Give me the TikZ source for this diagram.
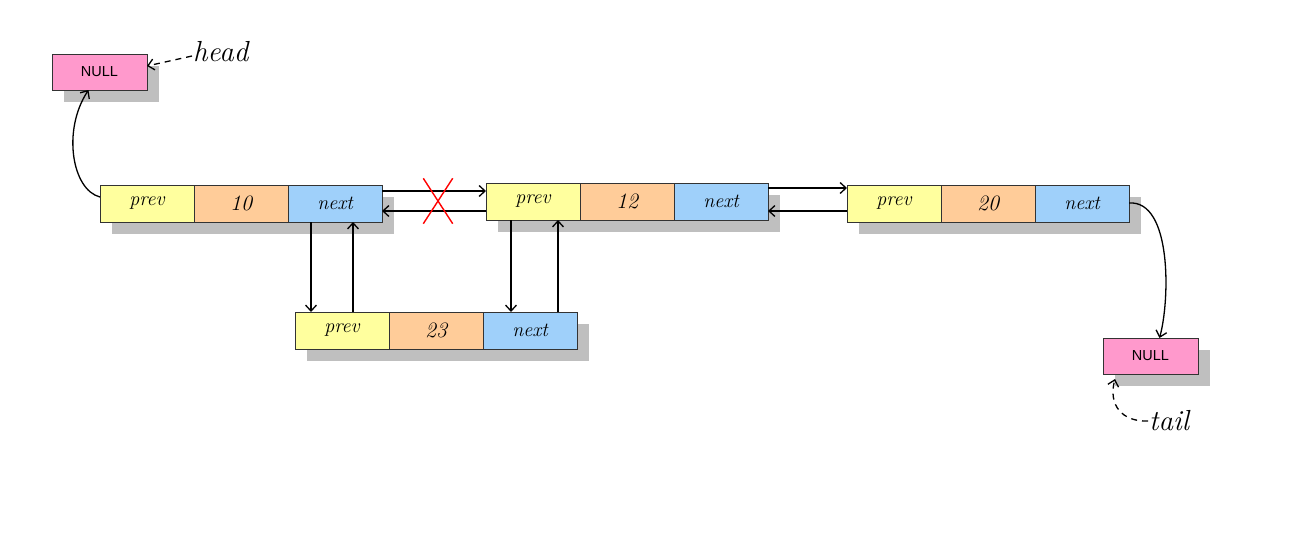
\documentclass[tikz,border=0pt]{standalone}
\usepackage{fontspec}
\usetikzlibrary{arrows.meta,positioning,backgrounds,shapes.misc}
\newfontfamily\nulltextfont{Liberation Sans}
\definecolor{cprev}{HTML}{FFFF9E}
\definecolor{cval}{HTML}{FFCC99}
\definecolor{cnext}{HTML}{9FD0FA}
\definecolor{cnull}{HTML}{FF99CC}
\definecolor{cshadow}{HTML}{BFBFBF}
\tikzset{
  cell/.style={draw=black!80, line width=0.9pt, minimum width=94pt, minimum height=37pt,
    inner sep=0pt, outer sep=0pt, font=\fontsize{20}{22}\selectfont\itshape},
  prevcell/.style={cell, fill=cprev},
  valcell/.style={cell, fill=cval, font=\fontsize{22}{24}\selectfont\itshape},
  nextcell/.style={cell, fill=cnext},
  nullbox/.style={draw=black!80, line width=0.9pt, fill=cnull, minimum width=95pt, minimum height=36pt,
    inner sep=0pt, outer sep=0pt, font=\nulltextfont\fontsize{14.5}{16}\selectfont},
  arr/.style={line width=1.3pt, -{Straight Barb[length=6pt,width=11pt]}},
  lbl/.style={font=\fontsize{29}{32}\selectfont\itshape, inner sep=1pt},
  shadowbox/.style={fill=cshadow}
}
\begin{document}
\begin{tikzpicture}[x=1pt,y=-1pt]
\useasboundingbox (0,0) rectangle (1300,538);
% node 10
\node[prevcell, anchor=north west] (a1) at (100,185) {prev};
\node[valcell, right=0pt of a1] (a2) {10};
\node[nextcell, right=0pt of a2] (a3) {next};
% node 12
\node[prevcell, anchor=north west] (b1) at (486,183) {prev};
\node[valcell, right=0pt of b1] (b2) {12};
\node[nextcell, right=0pt of b2] (b3) {next};
% node 20
\node[prevcell, anchor=north west] (c1) at (847,185) {prev};
\node[valcell, right=0pt of c1] (c2) {20};
\node[nextcell, right=0pt of c2] (c3) {next};
% node 23
\node[prevcell, anchor=north west] (d1) at (295,312) {prev};
\node[valcell, right=0pt of d1] (d2) {23};
\node[nextcell, right=0pt of d2] (d3) {next};
% NULL boxes
\node[nullbox, anchor=north west] (hn) at (52,54) {NULL};
\node[nullbox, anchor=north west] (tn) at (1103,338) {NULL};
% labels
\node[lbl, anchor=west] (hl) at (192,52) {head};
\node[lbl, anchor=west] (tl) at (1148,421) {tail};
% shadows
\begin{scope}[on background layer]
\foreach \p/\q in {a1/a3,b1/b3,c1/c3,d1/d3,hn/hn,tn/tn}{
  \fill[shadowbox] ([shift={(12pt,-12pt)}]\p.north west) rectangle ([shift={(12pt,-12pt)}]\q.south east);
}
\end{scope}
% horizontal links
\draw[arr] (a3.east |- 0,191) -- (b1.west |- 0,191);
\draw[arr] (b1.west |- 0,211) -- (a3.east |- 0,211);
\draw[arr] (b3.east |- 0,188) -- (c1.west |- 0,188);
\draw[arr] (c1.west |- 0,211) -- (b3.east |- 0,211);
% red cross
\node[cross out, draw=red, line width=1.4pt, minimum width=28pt, minimum height=44pt, inner sep=0pt] (x) at (438,201) {};
% vertical links
\draw[arr] (a3.south -| 311,0) -- (d1.north -| 311,0);
\draw[arr] (d1.north -| 353,0) -- (a3.south -| 353,0);
\draw[arr] (b1.south -| 511,0) -- (d3.north -| 511,0);
\draw[arr] (d3.north -| 558,0) -- (b1.south -| 558,0);
% head / tail links
\draw[arr] (a1.west |- 0,197) .. controls (72,190) and (62,130) .. ([xshift=-11pt]hn.south);
\draw[arr] (c3.east |- 0,203) .. controls (1172,200) and (1170,300) .. ([xshift=9pt]tn.north);
\draw[arr, dashed, dash pattern=on 6pt off 5pt] ([yshift=-4pt]hl.west) -- ([yshift=6pt]hn.east);
\draw[arr, dashed, dash pattern=on 6pt off 5pt] (tl.west) .. controls (1122,422) and (1108,405) .. ([xshift=12pt,yshift=-5pt]tn.south west);
\end{tikzpicture}
\end{document}
